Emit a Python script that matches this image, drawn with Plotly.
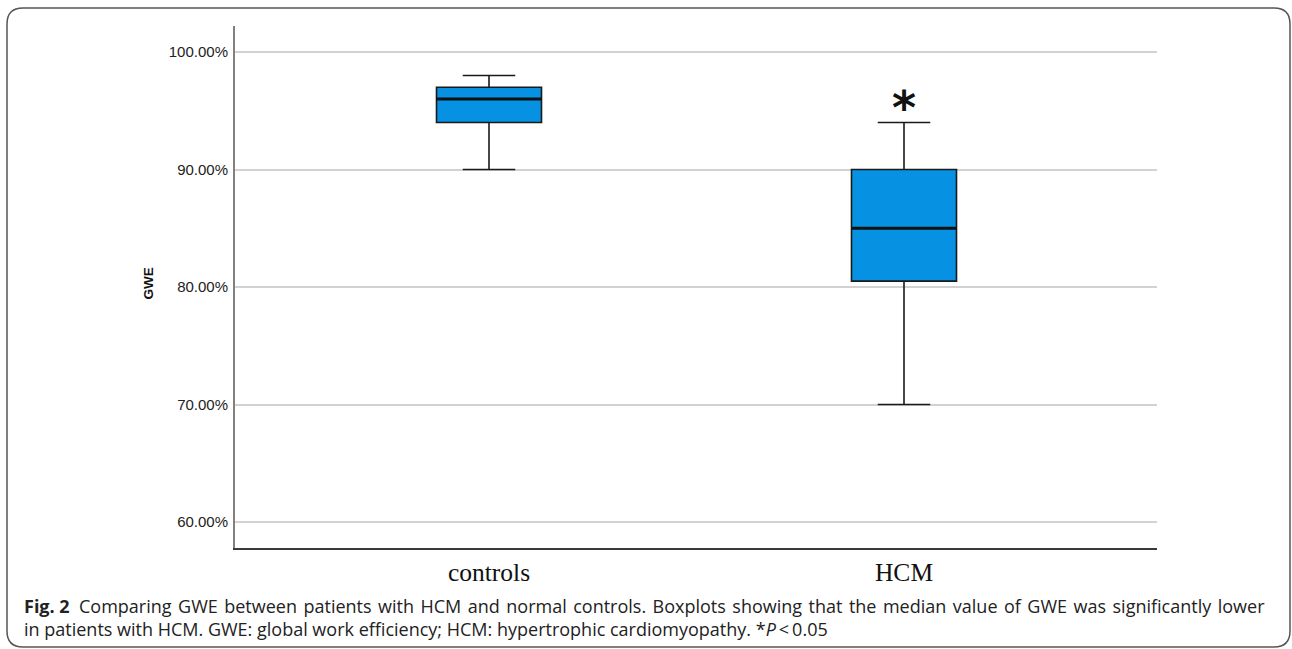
import plotly.graph_objects as go

# ---- data ----
categories = ["controls", "HCM"]
lower_whisker = [90.0, 70.0]
q1_values = [94.0, 80.5]
medians = [96.0, 85.0]
q3_values = [97.0, 90.0]
upper_whisker = [98.0, 94.0]
y_tick_values = [60, 70, 80, 90, 100]
y_tick_labels = ["60.00%", "70.00%", "80.00%", "90.00%", "100.00%"]
significance = ["", "*"]

W, H = 1292, 649
L, R, T, B = 235, 1157, 26, 548  # plot area in px
box_width = 0.253


def px(x):
    return (x - L) / (R - L)


def py(y):
    return 1 - (y - T) / (B - T)


fig = go.Figure()
xs = list(range(len(categories)))
for i, cat in enumerate(categories):
    fig.add_trace(go.Box(
        x=[xs[i]], q1=[q1_values[i]], median=[medians[i]], q3=[q3_values[i]],
        lowerfence=[lower_whisker[i]], upperfence=[upper_whisker[i]],
        name=cat, width=box_width, whiskerwidth=0.5,
        fillcolor="#0791e3", line=dict(color="#1a1a1a", width=1.6),
        boxpoints=False, showlegend=False, hoverinfo="skip",
    ))
    # thicker median line
    fig.add_shape(type="line", xref="x", yref="y",
                  x0=xs[i] - box_width / 2, x1=xs[i] + box_width / 2,
                  y0=medians[i], y1=medians[i],
                  line=dict(color="#111111", width=3))
    if significance[i]:
        fig.add_annotation(x=xs[i], y=upper_whisker[i], xref="x", yref="y",
                           text="<b>" + significance[i] + "</b>", showarrow=False,
                           yanchor="bottom", yshift=-14,
                           font=dict(family="DejaVu Sans", size=46, color="#111111"))

# rounded frame
x0, y0, x1, y1, r = 7, 8, 1290, 647, 16
pts = [
    ("M", (x0 + r, y0)), ("L", (x1 - r, y0)), ("Q", (x1, y0), (x1, y0 + r)),
    ("L", (x1, y1 - r)), ("Q", (x1, y1), (x1 - r, y1)),
    ("L", (x0 + r, y1)), ("Q", (x0, y1), (x0, y1 - r)),
    ("L", (x0, y0 + r)), ("Q", (x0, y0), (x0 + r, y0)),
]
path = ""
for seg in pts:
    cmd = seg[0]
    coords = " ".join(f"{px(a):.5f},{py(b):.5f}" for a, b in seg[1:])
    path += f"{cmd} {coords} "
path += "Z"
fig.add_shape(type="path", xref="paper", yref="paper", path=path,
              line=dict(color="#555555", width=1.5), fillcolor="rgba(0,0,0,0)", layer="below")

# y-axis title
fig.add_annotation(x=px(138), y=py(284), xref="paper", yref="paper",
                   text="<b>GWE</b>", textangle=-90, showarrow=False,
                   font=dict(family="Liberation Sans", size=13.5, color="#111111"))

# caption
cap_font = dict(family="Open Sans", size=18, color="#222222")
line1 = ("Comparing GWE between patients with HCM and normal controls. "
         "Boxplots showing that the median value of GWE was significantly lower").replace(" ", " \u200a")
fig.add_annotation(x=px(22), y=py(606), xref="paper", yref="paper", xanchor="left", yanchor="middle",
                   text="<b>Fig. 2</b>  " + line1,
                   showarrow=False, font=cap_font, align="left")
fig.add_annotation(x=px(22), y=py(629), xref="paper", yref="paper", xanchor="left", yanchor="middle",
                   text="in patients with HCM. GWE: global work efficiency; HCM: hypertrophic cardiomyopathy. *<i>P</i>\u2009<\u20090.05",
                   showarrow=False, font=cap_font, align="left")

y_per_px = 40 / (522 - 52)
y_range = [60 - (B - 522) * y_per_px, 100 + (52 - T) * y_per_px]
x_per_px = 1 / (904 - 489)
x_range = [0 - (489 - L) * x_per_px, 1 + (R - 904) * x_per_px]

fig.update_layout(
    width=W, height=H,
    margin=dict(l=L, r=W - R, t=T, b=H - B, pad=0),
    paper_bgcolor="white", plot_bgcolor="white",
    xaxis=dict(range=x_range, tickvals=xs, ticktext=categories,
               showgrid=False, zeroline=False, showline=True, linecolor="#3a3a3a", linewidth=2,
               ticks="", ticklen=0,
               tickfont=dict(family="Liberation Serif", size=25.5, color="#111111")),
    yaxis=dict(range=y_range, tickvals=y_tick_values, ticktext=y_tick_labels,
               showgrid=True, gridcolor="#d2d2d2", gridwidth=1.5, zeroline=False,
               showline=True, linecolor="#808080", linewidth=2,
               ticks="outside", ticklen=2, tickcolor="rgba(0,0,0,0)",
               tickfont=dict(family="Liberation Sans", size=15, color="#222222")),
)

fig.write_html("out.html", config={"displayModeBar": False},
               post_script="document.body.style.margin='0';")
